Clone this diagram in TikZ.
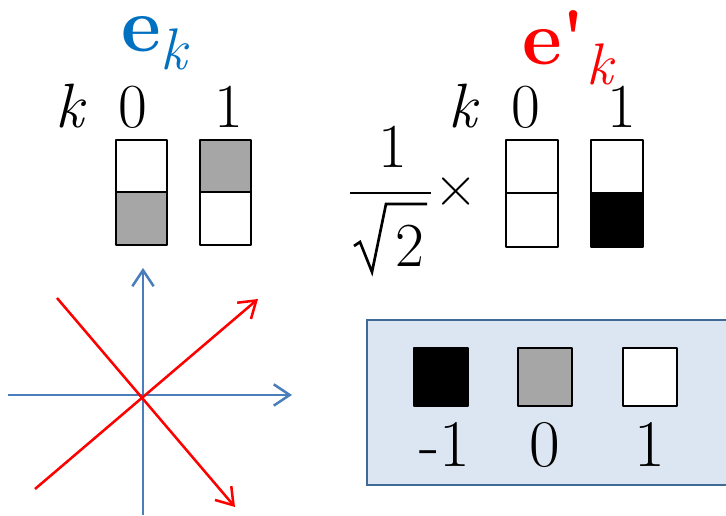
\documentclass[tikz,border=0pt]{standalone}
\usetikzlibrary{arrows.meta}

\definecolor{ekblue}{RGB}{0,112,192}
\definecolor{axisblue}{RGB}{74,126,187}
\definecolor{cellgray}{RGB}{166,166,166}
\definecolor{legfill}{RGB}{220,230,242}
\definecolor{legdraw}{RGB}{65,105,150}

\begin{document}
\begin{tikzpicture}[
        x=0.75pt, y=-0.75pt,
        cell/.style={draw=black, line width=2.2pt, line join=round},
        lbl/.style={anchor=base, inner sep=0pt},
        axis/.style={draw=axisblue, line width=1.9pt, -{Straight Barb[length=12pt, width=16pt, line width=1.9pt]}},
        vec/.style={draw=red, line width=1.9pt, -{Straight Barb[length=12pt, width=16pt, line width=1.9pt]}}
    ]
        \useasboundingbox (0,0) rectangle (726,516);

        % e_k, left column
        \node[anchor=base west, inner sep=0pt, text=ekblue] (ek) at (121,52)
            {\fontsize{58}{58}\selectfont\bfseries e\raisebox{-13.5pt}{\fontsize{44}{44}\selectfont\mdseries\itshape k}};
        \node[lbl] (kleft) at (70,128) {\fontsize{47}{47}\selectfont\itshape k};
        \node[lbl] (zleft) at (133,128) {\fontsize{47}{47}\selectfont 0};
        \node[lbl] (oleft) at (229,128) {\fontsize{47}{47}\selectfont 1};

        \filldraw[cell, fill=white] (116,140) rectangle (167,192);
        \filldraw[cell, fill=cellgray] (116,192) rectangle (167,245);
        \filldraw[cell, fill=cellgray] (200,140) rectangle (251,192);
        \filldraw[cell, fill=white] (200,192) rectangle (251,245);

        % e'_k, right column
        \node[anchor=base west, inner sep=0pt, text=red] (epk) at (522,65)
            {\fontsize{58}{58}\selectfont\bfseries e\textquotesingle\raisebox{-15pt}{\fontsize{44}{44}\selectfont\mdseries\itshape k}};
        \node[lbl] (kright) at (463,128) {\fontsize{47}{47}\selectfont\itshape k};
        \node[lbl] (zright) at (526,128) {\fontsize{47}{47}\selectfont 0};
        \node[lbl] (oright) at (622,128) {\fontsize{47}{47}\selectfont 1};

        % 1/sqrt(2) times
        \node[lbl] (num) at (393,168) {\fontsize{47}{47}\selectfont 1};
        \draw[line width=2pt] (350,193) -- (431,193);
        \draw[line width=2pt, line join=miter] (354,246) -- (360,242) -- (372,272) -- (386,204) -- (427,204);
        \node[lbl] (den) at (410,267) {\fontsize{47}{47}\selectfont 2};
        \node[inner sep=0pt] (times) at (456,192) {\fontsize{45}{45}\selectfont ×};

        \filldraw[cell, fill=white] (506,140) rectangle (558,193);
        \filldraw[cell, fill=white] (506,193) rectangle (558,247);
        \filldraw[cell, fill=white] (591,140) rectangle (643,193);
        \filldraw[cell, fill=black] (591,193) rectangle (643,247);

        % axes and rotated basis
        \draw[axis] (143,515) -- (143,268);
        \draw[axis] (8,395) -- (292,395);
        \draw[vec] (35,489) -- (258,299);
        \draw[vec] (57,298) -- (235,507);

        % legend
        \filldraw[draw=legdraw, fill=legfill, line width=2.2pt] (367,320) rectangle (735,485);
        \filldraw[cell, fill=black] (414,348) rectangle (468,406);
        \filldraw[cell, fill=cellgray] (518,348) rectangle (572,406);
        \filldraw[cell, fill=white] (623,348) rectangle (677,406);
        \node[lbl] (lm) at (445,467) {\fontsize{50}{50}\selectfont -1};
        \node[lbl] (lz) at (545,467) {\fontsize{50}{50}\selectfont 0};
        \node[lbl] (lo) at (650,467) {\fontsize{50}{50}\selectfont 1};
    \end{tikzpicture}
\end{document}
